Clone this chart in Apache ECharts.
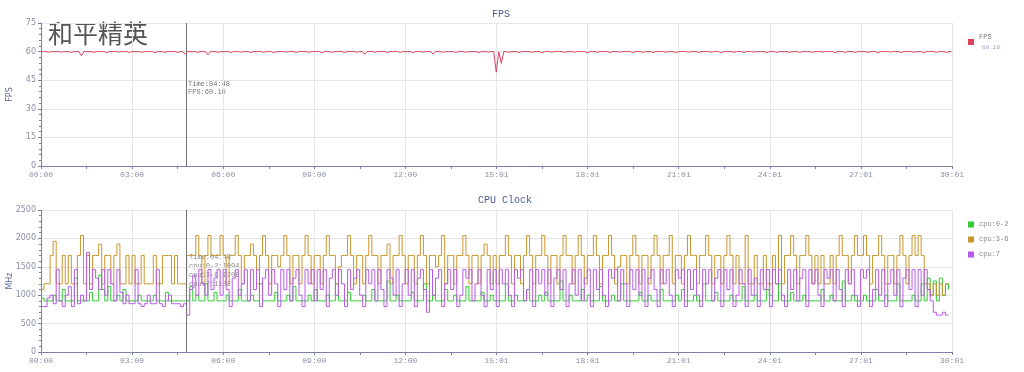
<!DOCTYPE html>
<html><head><meta charset="utf-8">
<script src="https://cdn.jsdelivr.net/npm/echarts@6/dist/echarts.min.js"></script>
<style>html,body{margin:0;padding:0;background:#fff}#c{width:1024px;height:372px}</style>
</head><body><div id="c"></div>
<script>
const X_LABELS = ['00:00','03:00','06:00','09:00','12:00','15:01','18:01','21:01','24:01','27:01','30:01'];
const FPS_STEP = 5;   // seconds between FPS samples
const CPU_STEP = 6;   // seconds between CPU samples
const FPS = [
60,60,60,59.6,60,60,60,60,59.7,60,60,60,59.5,60,60,60,57.8,60,60,60,
60,59.6,60,60,60,60,59.4,60,60,60,60,59.7,60,60,60,59.5,60,60,60,60,
59.6,60,60,60,60,59.3,60,60,60,59.6,60,60,60,60,59.5,60,60,58.8,60,60,
60,60,59.6,60,60,60,58.3,60,60,60,59.6,60,60,60,60,59.5,60,60,60,59.7,
60,60,60,59.5,60,60,60,60,59.6,60,60,60,59.4,60,60,60,60,59.7,60,60,
60,59.5,60,60,60,60,59.6,60,60,60,60,59.3,60,60,60,59.6,60,60,60,60,
59.5,60,60,60,60,59.7,60,60,58.6,60,60,60,59.6,60,60,60,60,59.5,60,60,
60,60,59.6,60,60,60,60,59.4,60,60,60,59.7,60,60,60,58.7,60,60,60,59.6,
60,60,60,60,59.5,60,60,60,59.6,60,60,60,60,59.4,60,60,60,59.7,60,60,
49.2,60,53.8,60,60,59.6,60,60,60,59.5,60,60,60,60,59.6,60,60,60,59.4,60,
60,60,59.7,60,60,60,60,59.5,60,60,60,59.6,60,60,60,60,59.3,60,60,60,
59.6,60,60,60,60,59.5,60,60,60,59.7,60,60,60,60,59.4,60,60,60,59.6,60,
60,60,59.5,60,60,60,60,59.6,60,60,60,59.4,60,60,60,60,59.7,60,60,60,
59.5,60,60,60,60,59.6,60,60,60,59.3,60,60,60,60,59.6,60,60,60,59.5,60,
60,60,59.7,60,60,60,60,59.4,60,60,60,59.6,60,60,60,60,59.5,60,60,60,
59.6,60,60,60,60,59.5,60,60,60,59.7,60,60,60,60,59.4,60,60,60,59.6,60,
60,60,59.5,60,60,60,60,59.6,60,60,60,59.4,60,60,60,60,59.7,60,60,60,
59.5,60,60,60,60,59.6,60,60,60,59.3,60,60,60,60,59.6,60,60,60,59.5,60,
60
];
const CPU_0_2 = [
950,900,900,900,1000,900,900,1100,900,900,900,1300,900,900,900,
900,1050,900,900,1350,1100,900,1150,900,900,1000,900,1100,900,900,
900,900,1000,900,900,900,900,1000,900,900,900,1050,900,900,900,
900,900,900,900,1150,900,1000,900,900,1200,900,900,1050,900,900,
900,1000,900,900,900,1100,900,900,900,1000,900,900,1200,900,900,
900,900,1050,900,900,900,1000,900,1150,900,900,900,900,1000,900,
1100,900,900,900,1000,900,900,1200,900,900,900,1050,900,900,900,
900,1000,900,900,1100,900,900,900,900,1250,900,900,1000,900,900,
900,900,1050,900,900,900,1200,900,900,1000,900,900,900,1100,900,
900,1000,900,900,900,1150,900,900,900,900,1050,900,900,1000,900,
900,900,900,1200,900,900,1000,900,900,900,1100,900,900,900,1000,
900,1050,900,900,900,900,1250,900,900,1000,900,900,900,1100,900,
1000,900,900,900,1150,900,900,900,1000,900,900,1200,900,900,900,
900,900,1050,900,900,1000,900,900,900,1100,900,900,900,900,1000,
900,1100,900,900,900,1000,900,900,1200,900,900,900,1050,900,900,
900,900,1000,900,900,900,1150,900,900,900,1000,900,900,900,1100,
1000,900,900,1200,900,900,900,1050,900,900,900,1000,900,900,900,
900,900,1100,900,900,1000,900,900,900,1250,900,900,1000,900,900,
900,1000,900,900,900,1100,900,900,1000,900,900,900,1200,900,900,
900,900,1000,900,900,1200,900,1300,1000,1250,900,1300,1000,1200,1100
];
const CPU_3_6 = [
1100,1200,1200,1700,1950,1200,1200,1700,1200,1700,1200,1200,1700,2050,1200,
1700,1200,1700,1700,1900,1200,1700,1700,1200,1700,1900,1200,1200,1700,1200,
1700,1200,1200,1700,1200,1200,1200,1700,1200,1200,1700,1700,1700,1200,1700,
1200,1200,1200,1700,1700,1700,2050,1700,1200,1700,2050,1700,1700,1700,2050,
1700,1200,1700,1700,2050,1700,1200,1700,1700,1900,1700,1200,1700,2050,1700,
1200,1700,1700,1500,1700,2050,1700,1200,1700,1700,1200,1700,2050,1700,1200,
1700,1700,1200,1700,2050,1700,1700,1200,1500,1700,1700,2050,1700,1200,1700,
1700,1200,1700,2050,1700,1700,1200,1700,1700,1900,1200,1700,1700,2050,1700,
1200,1700,1700,1200,1700,2050,1700,1200,1700,1700,1500,1700,2050,1200,1700,
1700,1200,1700,1700,2050,1700,1200,1700,1700,1200,1700,1900,1700,1200,1700,
1200,1700,1700,2050,1700,1200,1700,1700,1200,1700,2050,1700,1200,1700,1700,
2050,1700,1200,1700,1700,1200,1700,2050,1700,1700,1200,1700,2050,1700,1200,
1700,1700,2050,1700,1200,1700,1700,2050,1700,1200,1500,1700,1700,1200,1700,
2050,1700,1200,1700,1700,1200,1700,2050,1700,1200,1700,1700,2050,1200,1700,
1700,1200,1700,2050,1700,1700,1200,1700,1700,2050,1700,1200,1700,1700,1200,
1700,2050,1700,1200,1700,1200,1200,2050,1200,1200,1700,1200,1200,1700,1200,
1200,1700,1200,2050,1200,1700,1700,2050,1700,1200,1700,1700,2050,1700,1200,
1700,1200,1700,1200,1200,1700,1200,1700,2050,1700,1700,1200,1700,2050,1700,
1700,2050,1700,1200,1700,1700,2050,1700,1200,1700,1700,1200,1700,2050,1700,
1200,1700,2050,1700,2050,1700,1200,1200,1000,1200,1000,1200,1000,1200,1200
];
const CPU_7 = [
800,800,950,1000,850,1450,900,800,1000,1150,800,1450,850,1000,900,
1750,1100,1450,1300,1100,1450,1000,1450,1200,900,1450,1050,850,1000,850,
850,1450,850,800,850,1000,850,850,1450,850,800,900,1000,850,850,
850,800,850,650,1100,1350,1000,1450,1200,1000,1450,1100,1300,1450,1000,
1450,1100,800,1300,1450,1000,1200,1450,900,1450,1100,1450,800,1300,1450,
1000,1450,1200,800,1450,1100,1450,900,1300,1450,1000,800,1450,1200,1450,
900,1450,1100,1450,800,1300,1450,1000,1450,1200,800,1450,1100,1300,1450,
1000,800,1450,1200,1450,900,1450,1100,800,1450,1300,1000,1450,800,1200,
1450,1000,1450,800,1300,1450,1100,700,1450,1000,1300,1450,800,1200,1450,
1100,1450,800,1000,1450,1300,1450,900,1200,1450,1000,800,1450,1100,1450,
800,1450,1200,1450,1000,800,1450,1300,1450,900,1100,1450,800,1450,1200,
1450,1000,1450,800,1300,1450,1100,1450,800,1200,1450,1000,1450,900,1300,
1450,800,1450,1100,1450,1000,800,1450,1300,1450,900,1450,1200,800,1450,
1100,1450,1000,1450,800,1300,1450,1100,800,1450,1200,1450,1000,800,1450,
1300,1450,800,1450,1100,1450,1000,800,1450,1200,1450,900,1300,1450,800,
1450,1100,1450,800,1000,1450,1200,800,1450,1000,1300,800,1450,1100,1450,
800,1450,1200,1450,1000,800,1450,1100,1450,900,1300,1450,800,1450,1200,
1450,1000,800,1450,1300,1450,900,1450,1100,800,1450,1200,1450,1000,800,
1450,1300,1450,800,1100,1450,1000,1450,800,1200,1450,1000,1450,800,1300,
1450,1100,1450,800,1450,1000,1450,1100,900,700,650,650,700,650,650
];
const POINTER_TIME = 288;
const TOOLTIP_FPS = ['Time:04:48','FPS:60.10'];
const TOOLTIP_CPU = ['Time:04:48','cpu:0-2:1094','cpu:3-6:1708','cpu:7:1132'];
const FPS_AVG = '60.10';

const X_MAX = 1801, X_INT = 180.1;
const toPairs = (arr, step) => arr.map((v, i) => [i * step, v]);

const axisColor = '#7a80a8';
const labelColor = '#8a8fa8';
const mono = 'Liberation Mono';
function xAxis(gi) {
  return {
    type: 'value', gridIndex: gi, min: 0, max: X_MAX, interval: X_INT,
    axisLine: {lineStyle: {color: axisColor}},
    axisTick: {show: true, length: 3, lineStyle: {color: axisColor}},
    minorTick: {show: true, splitNumber: 2, length: 3, lineStyle: {color: axisColor}},
    axisLabel: {color: labelColor, fontSize: 8, fontFamily: mono, margin: 5,
      formatter: v => X_LABELS[Math.round(v / X_INT)] || ''},
    splitLine: {show: true, lineStyle: {color: '#e6e6e6'}}
  };
}
function yAxis(gi, max, interval, name) {
  return {
    type: 'value', gridIndex: gi, min: 0, max: max, interval: interval,
    name: name, nameLocation: 'middle', nameGap: 27, nameMoveOverlap: false,
    nameTextStyle: {color: '#5a6aa0', fontSize: 8, fontFamily: 'DejaVu Sans'},
    axisLine: {show: true, lineStyle: {color: axisColor}},
    axisTick: {show: true, length: 3, lineStyle: {color: axisColor}},
    minorTick: {show: true, splitNumber: 5, length: 2, lineStyle: {color: axisColor}},
    axisLabel: {color: labelColor, fontSize: 8, fontFamily: 'DejaVu Sans', margin: 5,
      formatter: v => String(v)},
    splitLine: {show: true, lineStyle: {color: '#e6e6e6'}}
  };
}
const pointerLine = {
  silent: true, symbol: 'none', label: {show: false},
  lineStyle: {color: '#707070', type: 'solid', width: 1},
  data: [{xAxis: POINTER_TIME}]
};

const chart = echarts.init(document.getElementById('c'), null, {renderer: 'canvas'});
chart.setOption({
  animation: false,
  title: [
    {text: 'FPS', left: 496, top: 4, textAlign: 'center',
     textStyle: {color: '#4b5a94', fontSize: 10, fontWeight: 'normal', fontFamily: mono}},
    {text: 'CPU Clock', left: 500, top: 190, textAlign: 'center',
     textStyle: {color: '#4b5a94', fontSize: 10, fontWeight: 'normal', fontFamily: mono}}
  ],
  legend: [
    {orient: 'vertical', left: 963, top: 29, itemWidth: 6, itemHeight: 6, icon: 'rect',
     data: ['FPS'],
     formatter: n => '{a|' + n + '}\n{b|' + FPS_AVG + '}',
     textStyle: {rich: {
       a: {color: '#777', fontSize: 7, fontFamily: mono, lineHeight: 10},
       b: {color: '#9aa3c8', fontSize: 6, fontFamily: mono, lineHeight: 9, padding: [0,0,0,3]}}}},
    {orient: 'vertical', left: 963, top: 216, itemWidth: 6, itemHeight: 6, itemGap: 8, icon: 'rect',
     data: ['cpu:0-2','cpu:3-6','cpu:7'],
     textStyle: {color: '#888', fontSize: 7, fontFamily: mono}}
  ],
  grid: [
    {left: 41, right: 72, top: 23, height: 143, containLabel: false, outerBoundsMode: 'none'},
    {left: 41, right: 72, top: 210, height: 142, containLabel: false, outerBoundsMode: 'none'}
  ],
  xAxis: [xAxis(0), xAxis(1)],
  yAxis: [yAxis(0, 75, 15, 'FPS'), yAxis(1, 2500, 500, 'MHz')],
  graphic: [
    {type: 'text', left: 48, top: 21, style: {text: '和平精英', fill: '#555',
      font: '25px "Noto Sans CJK SC"'}},
    {type: 'text', left: 188, top: 80, style: {text: TOOLTIP_FPS.join('\n'), fill: '#777',
      font: '7px "Liberation Mono"', lineHeight: 8}},
    {type: 'text', left: 189, top: 253, style: {text: TOOLTIP_CPU.join('\n'), fill: '#888',
      font: '7px "Liberation Mono"', lineHeight: 9, backgroundColor: 'rgba(255,255,255,0.35)'}}
  ],
  series: [
    {name: 'FPS', type: 'line', xAxisIndex: 0, yAxisIndex: 0, showSymbol: false,
     data: toPairs(FPS, FPS_STEP), color: '#e0405e', lineStyle: {width: 1},
     markLine: pointerLine},
    {name: 'cpu:0-2', type: 'line', xAxisIndex: 1, yAxisIndex: 1, showSymbol: false, step: 'end',
     data: toPairs(CPU_0_2, CPU_STEP), color: '#33cc33', lineStyle: {width: 1},
     markLine: pointerLine},
    {name: 'cpu:3-6', type: 'line', xAxisIndex: 1, yAxisIndex: 1, showSymbol: false, step: 'end',
     data: toPairs(CPU_3_6, CPU_STEP), color: '#c9962d', lineStyle: {width: 1}},
    {name: 'cpu:7', type: 'line', xAxisIndex: 1, yAxisIndex: 1, showSymbol: false, step: 'end',
     data: toPairs(CPU_7, CPU_STEP), color: '#b85be8', lineStyle: {width: 1}}
  ]
});
</script></body></html>
